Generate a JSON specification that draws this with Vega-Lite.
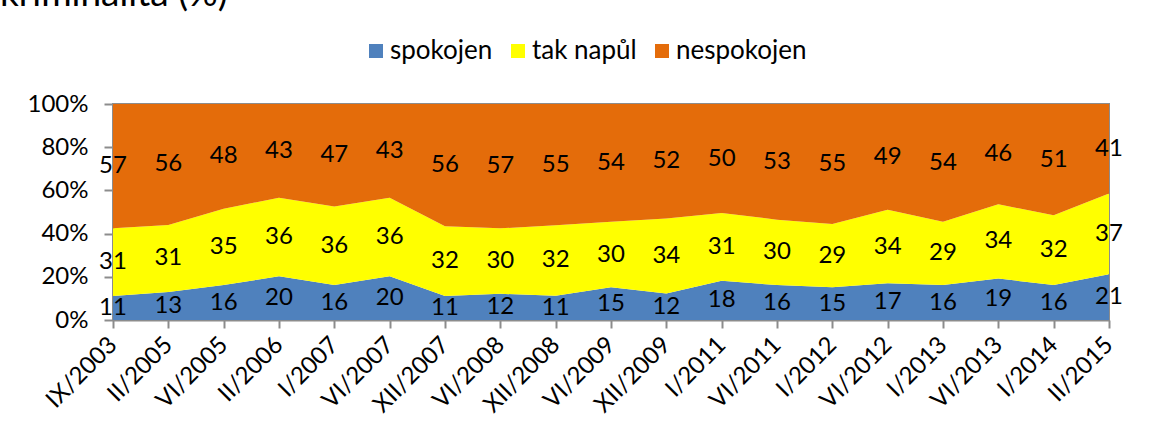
{
  "$schema": "https://vega.github.io/schema/vega-lite/v6.json",
  "width": 996,
  "height": 216,
  "autosize": {"type": "none"},
  "padding": {"left": 113, "top": 104, "right": 42, "bottom": 114},
  "title": {"text": "kriminalita (%)", "anchor": "start", "frame": "group", "font": "Lato", "fontSize": 37, "fontWeight": "normal", "color": "#000000", "baseline": "alphabetic", "dx": -113, "dy": 9},
  "data": {"values": [
    {"d":"IX/2003","k":"spokojen","o":1,"v":11},{"d":"IX/2003","k":"tak napůl","o":2,"v":31},{"d":"IX/2003","k":"nespokojen","o":3,"v":57},
    {"d":"II/2005","k":"spokojen","o":1,"v":13},{"d":"II/2005","k":"tak napůl","o":2,"v":31},{"d":"II/2005","k":"nespokojen","o":3,"v":56},
    {"d":"VI/2005","k":"spokojen","o":1,"v":16},{"d":"VI/2005","k":"tak napůl","o":2,"v":35},{"d":"VI/2005","k":"nespokojen","o":3,"v":48},
    {"d":"II/2006","k":"spokojen","o":1,"v":20},{"d":"II/2006","k":"tak napůl","o":2,"v":36},{"d":"II/2006","k":"nespokojen","o":3,"v":43},
    {"d":"I/2007","k":"spokojen","o":1,"v":16},{"d":"I/2007","k":"tak napůl","o":2,"v":36},{"d":"I/2007","k":"nespokojen","o":3,"v":47},
    {"d":"VI/2007","k":"spokojen","o":1,"v":20},{"d":"VI/2007","k":"tak napůl","o":2,"v":36},{"d":"VI/2007","k":"nespokojen","o":3,"v":43},
    {"d":"XII/2007","k":"spokojen","o":1,"v":11},{"d":"XII/2007","k":"tak napůl","o":2,"v":32},{"d":"XII/2007","k":"nespokojen","o":3,"v":56},
    {"d":"VI/2008","k":"spokojen","o":1,"v":12},{"d":"VI/2008","k":"tak napůl","o":2,"v":30},{"d":"VI/2008","k":"nespokojen","o":3,"v":57},
    {"d":"XII/2008","k":"spokojen","o":1,"v":11},{"d":"XII/2008","k":"tak napůl","o":2,"v":32},{"d":"XII/2008","k":"nespokojen","o":3,"v":55},
    {"d":"VI/2009","k":"spokojen","o":1,"v":15},{"d":"VI/2009","k":"tak napůl","o":2,"v":30},{"d":"VI/2009","k":"nespokojen","o":3,"v":54},
    {"d":"XII/2009","k":"spokojen","o":1,"v":12},{"d":"XII/2009","k":"tak napůl","o":2,"v":34},{"d":"XII/2009","k":"nespokojen","o":3,"v":52},
    {"d":"I/2011","k":"spokojen","o":1,"v":18},{"d":"I/2011","k":"tak napůl","o":2,"v":31},{"d":"I/2011","k":"nespokojen","o":3,"v":50},
    {"d":"VI/2011","k":"spokojen","o":1,"v":16},{"d":"VI/2011","k":"tak napůl","o":2,"v":30},{"d":"VI/2011","k":"nespokojen","o":3,"v":53},
    {"d":"I/2012","k":"spokojen","o":1,"v":15},{"d":"I/2012","k":"tak napůl","o":2,"v":29},{"d":"I/2012","k":"nespokojen","o":3,"v":55},
    {"d":"VI/2012","k":"spokojen","o":1,"v":17},{"d":"VI/2012","k":"tak napůl","o":2,"v":34},{"d":"VI/2012","k":"nespokojen","o":3,"v":49},
    {"d":"I/2013","k":"spokojen","o":1,"v":16},{"d":"I/2013","k":"tak napůl","o":2,"v":29},{"d":"I/2013","k":"nespokojen","o":3,"v":54},
    {"d":"VI/2013","k":"spokojen","o":1,"v":19},{"d":"VI/2013","k":"tak napůl","o":2,"v":34},{"d":"VI/2013","k":"nespokojen","o":3,"v":46},
    {"d":"I/2014","k":"spokojen","o":1,"v":16},{"d":"I/2014","k":"tak napůl","o":2,"v":32},{"d":"I/2014","k":"nespokojen","o":3,"v":51},
    {"d":"II/2015","k":"spokojen","o":1,"v":21},{"d":"II/2015","k":"tak napůl","o":2,"v":37},{"d":"II/2015","k":"nespokojen","o":3,"v":41}
  ]},
  "transform": [
    {"stack": "v", "groupby": ["d"], "offset": "normalize", "sort": [{"field": "o", "order": "ascending"}], "as": ["y0", "y1"]}
  ],
  "layer": [
    {
      "mark": {"type": "area", "interpolate": "linear"},
      "encoding": {
        "x": {"field": "d", "type": "ordinal", "sort": null, "scale": {"type": "point", "padding": 0},
              "axis": {"title": null, "labelAngle": -45, "labelAlign": "right", "labelBaseline": "middle", "labelPadding": 13, "tickSize": 8, "grid": false}},
        "y": {"field": "y0", "type": "quantitative", "scale": {"domain": [0, 1], "nice": false},
              "axis": {"title": null, "values": [0, 0.2, 0.4, 0.6, 0.8, 1], "format": ".0%", "tickSize": 9, "labelPadding": 16, "grid": false}},
        "y2": {"field": "y1"},
        "color": {"field": "k", "type": "nominal",
                  "scale": {"domain": ["spokojen", "tak napůl", "nespokojen"], "range": ["#4F81BD", "#FFFF00", "#E46C0A"]},
                  "legend": {"title": null, "orient": "none", "legendX": 250, "legendY": -66, "direction": "horizontal",
                             "symbolType": "square", "symbolSize": 196, "symbolStrokeWidth": 0, "labelFontSize": 26, "labelFont": "Lato",
                             "labelColor": "#000000", "columnPadding": 12, "labelOffset": 1, "padding": 0}},
        "order": {"field": "o"}
      }
    },
    {
      "transform": [{"fold": ["y0", "y1"], "as": ["edge", "pos"]}],
      "mark": {"type": "text", "font": "Lato", "fontSize": 24, "color": "#000000", "baseline": "middle", "align": "center"},
      "encoding": {
        "x": {"field": "d", "type": "ordinal", "sort": null},
        "y": {"field": "pos", "type": "quantitative", "aggregate": "mean"},
        "detail": {"field": "k"},
        "text": {"field": "v", "type": "quantitative"}
      }
    }
  ],
  "config": {
    "view": {"stroke": "#8C8C8C", "strokeWidth": 2},
    "axis": {"domainColor": "#8C8C8C", "domainWidth": 2, "tickColor": "#8C8C8C", "tickWidth": 2,
             "labelFont": "Lato", "labelFontSize": 24, "labelColor": "#000000"}
  }
}
